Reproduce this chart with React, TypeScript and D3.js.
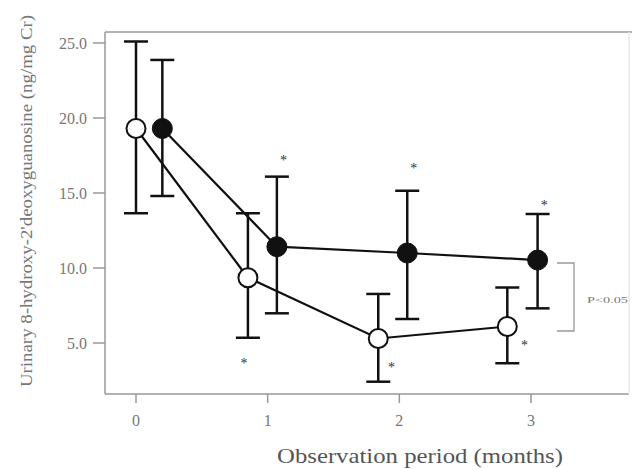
import React from "react";
import * as d3 from "d3";

const yTicks = [5, 10, 15, 20, 25];
const xTicks = [0, 1, 2, 3];

const openX = [0, 0.85, 1.84, 2.82];
const openMean = [19.3, 9.35, 5.3, 6.1];
const openHi = [25.1, 13.65, 8.27, 8.7];
const openLo = [13.65, 5.35, 2.42, 3.65];

const filledX = [0.2, 1.07, 2.06, 3.05];
const filledMean = [19.3, 11.42, 11.0, 10.53];
const filledHi = [23.87, 16.09, 15.15, 13.6];
const filledLo = [14.8, 6.98, 6.6, 7.31];

// asterisk positions in data units
const starX = [1.12, 2.11, 3.1, 0.82, 1.94, 2.95];
const starY = [17.4, 16.9, 14.4, 3.9, 3.6, 5.1];

const W = 632;
const H = 469;

export default function App() {
  const x = d3.scaleLinear().domain([0, 3]).range([136, 531]);
  const y = d3.scaleLinear().domain([0, 25]).range([418, 43]);
  const left = 105, top = 32, bottom = 394, right = 629;
  const font = "'Liberation Serif', 'Times New Roman', serif";
  const openPts = openX.map((v, i) => [x(v), y(openMean[i])] as [number, number]);
  const filledPts = filledX.map((v, i) => [x(v), y(filledMean[i])] as [number, number]);
  const lineGen = d3.line<[number, number]>().x((d) => d[0]).y((d) => d[1]);
  const cap = 12;
  const errBars = (xs: number[], hi: number[], lo: number[], key: string) =>
    xs.map((v, i) => {
      const cx = x(v);
      return (
        <g key={key + i} stroke="#111" strokeWidth={2.5} fill="none">
          <line x1={cx} x2={cx} y1={y(hi[i])} y2={y(lo[i])} />
          <line x1={cx - cap} x2={cx + cap} y1={y(hi[i])} y2={y(hi[i])} />
          <line x1={cx - cap} x2={cx + cap} y1={y(lo[i])} y2={y(lo[i])} />
        </g>
      );
    });
  return (
    <svg width={W} height={H} style={{ position: "absolute", left: 0, top: 0, background: "#fff" }}>
      <rect x={0} y={0} width={W} height={H} fill="#fff" />
      <g stroke="#999" strokeWidth={1.5} fill="none">
        <line x1={left} x2={left} y1={top} y2={bottom} />
        <line x1={left} x2={W} y1={top} y2={top} />
        <line x1={left} x2={right} y1={bottom} y2={bottom} />
        <line x1={right} x2={right} y1={top} y2={bottom} stroke="#e8e8e8" />
      </g>
      {yTicks.map((t) => (
        <g key={"yt" + t}>
          <line x1={93} x2={left} y1={y(t)} y2={y(t)} stroke="#999" strokeWidth={1.5} />
          <text x={87} y={y(t)} dy="0.35em" textAnchor="end" fontSize={16} fill="#777" fontFamily={font}>
            {d3.format(".1f")(t)}
          </text>
        </g>
      ))}
      {xTicks.map((t) => (
        <g key={"xt" + t}>
          <line x1={x(t)} x2={x(t)} y1={bottom} y2={bottom + 9} stroke="#999" strokeWidth={1.5} />
          <text x={x(t)} y={426} textAnchor="middle" fontSize={16} fill="#777" fontFamily={font}>
            {t}
          </text>
        </g>
      ))}
      <text
        transform={`translate(26,${201}) rotate(-90)`}
        textAnchor="middle"
        dy="0.35em"
        fontSize={16}
        textLength={372}
        lengthAdjust="spacingAndGlyphs"
        fill="#777"
        fontFamily={font}
      >
        Urinary 8-hydroxy-2'deoxyguanosine (ng/mg Cr)
      </text>
      <text
        x={420}
        y={463}
        textAnchor="middle"
        fontSize={22}
        textLength={286}
        lengthAdjust="spacingAndGlyphs"
        fill="#555"
        fontFamily={font}
      >
        Observation period (months)
      </text>
      {errBars(openX, openHi, openLo, "o")}
      {errBars(filledX, filledHi, filledLo, "f")}
      <path d={lineGen(openPts) || ""} stroke="#111" strokeWidth={2.2} fill="none" />
      <path d={lineGen(filledPts) || ""} stroke="#111" strokeWidth={2.2} fill="none" />
      {openPts.map((p, i) => (
        <circle key={"oc" + i} cx={p[0]} cy={p[1]} r={9.5} fill="#fff" stroke="#111" strokeWidth={2} />
      ))}
      {filledPts.map((p, i) => (
        <circle key={"fc" + i} cx={p[0]} cy={p[1]} r={10} fill="#111" stroke="#111" strokeWidth={1} />
      ))}
      {starX.map((v, i) => (
        <text key={"s" + i} x={x(v)} y={y(starY[i])} dy="0.6em" textAnchor="middle" fontSize={14} fill="#333" fontFamily={font}>
          *
        </text>
      ))}
      <path d="M557,263 H574 V331 H557" stroke="#999" strokeWidth={1.3} fill="none" />
      <text
        x={587}
        y={300}
        dy="0.35em"
        fontSize={9}
        textLength={41}
        lengthAdjust="spacingAndGlyphs"
        fill="#777"
        fontFamily={font}
      >
        P&lt;0.05
      </text>
    </svg>
  );
}
